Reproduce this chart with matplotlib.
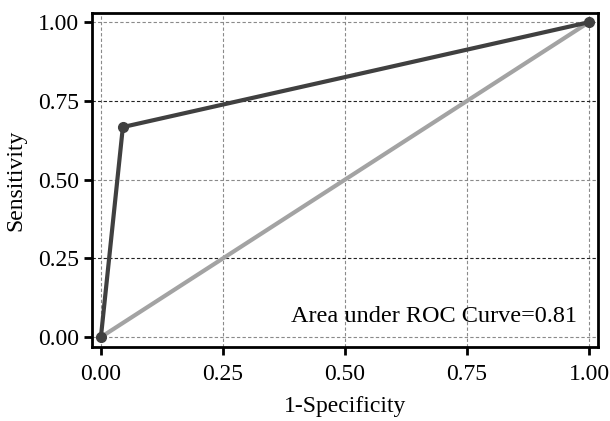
import matplotlib.pyplot as plt

plt.rcParams['font.family'] = ['Liberation Serif', 'DejaVu Serif']

# ROC points
fpr = [0.0, 0.045, 1.0]
tpr = [0.0, 0.667, 1.0]
diag = [0.0, 1.0]
ticks = [0.0, 0.25, 0.5, 0.75, 1.0]
tick_labels = ['0.00', '0.25', '0.50', '0.75', '1.00']
auc_text = 'Area under ROC Curve=0.81'

fig = plt.figure(figsize=(6.1, 4.21), dpi=100)
ax = fig.add_axes([0.151, 0.176, 0.829, 0.793])

# grid lines
for t in ticks:
    ax.axvline(t, color='#8a8a8a', ls=(0, (3, 2)), lw=0.8, zorder=0)
for t in ticks:
    c = '#222222' if t in (0.25, 0.75) else '#8a8a8a'
    ax.axhline(t, color=c, ls=(0, (3, 2)), lw=0.8, zorder=0)

ax.plot(diag, diag, color='#a3a3a3', lw=3.0, zorder=2)
ax.plot(fpr, tpr, color='#404040', lw=3.0, marker='o', ms=7, zorder=3)

ax.text(0.975, 0.048, auc_text, fontsize=17.5, ha='right', va='baseline')

ax.set_xlim(-0.018, 1.018)
ax.set_ylim(-0.031, 1.029)
ax.set_xticks(ticks)
ax.set_xticklabels(tick_labels)
ax.set_yticks(ticks)
ax.set_yticklabels(tick_labels)
ax.tick_params(labelsize=17, width=2, length=6, direction='out', colors='black')
ax.tick_params(axis='x', pad=6)
for s in ax.spines.values():
    s.set_linewidth(2)

ax.set_xlabel('1-Specificity', fontsize=17, labelpad=8)
ax.set_ylabel('Sensitivity', fontsize=17, labelpad=8)

fig.savefig('out.png', dpi=100)
